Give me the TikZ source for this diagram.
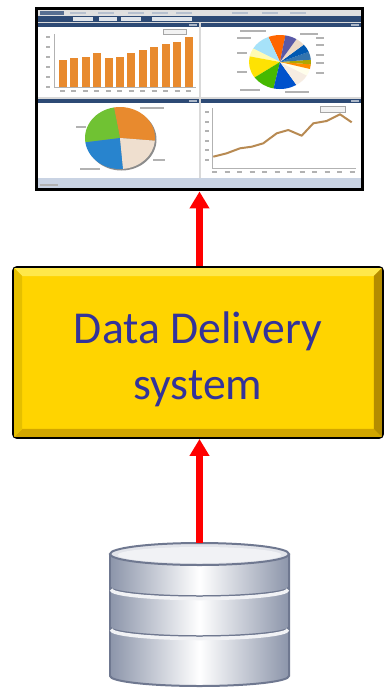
\documentclass[tikz,border=0pt]{standalone}
\usepackage{fontspec}
\setmainfont{Carlito}
\usetikzlibrary{arrows.meta,calc}
\definecolor{ddyellow}{HTML}{FFD400}
\definecolor{ddlight}{HTML}{FFE84A}
\definecolor{dddark}{HTML}{D2A600}
\definecolor{ddside}{HTML}{B48C00}
\definecolor{ddtext}{HTML}{33339A}
\definecolor{navy}{HTML}{2D4A75}
\definecolor{barorange}{HTML}{E88A2E}
\definecolor{dbedge}{HTML}{8C95AA}
\definecolor{dbrim}{HTML}{6F7890}
\definecolor{statusblue}{HTML}{C9D3E3}
\definecolor{linetan}{HTML}{B88A52}
\tikzset{flow/.style={red, line width=0.14cm, -{Triangle[length=0.34cm,width=0.38cm]}},
  dds/.style={draw=black, line width=0.04cm, rounded corners=0.08cm, fill=ddyellow, minimum width=7.4cm, minimum height=3.42cm, text=ddtext, font=\fontsize{26}{32}\selectfont, align=center},
  screen/.style={draw=black, line width=0.06cm, fill=white, minimum width=6.54cm, minimum height=3.64cm, inner sep=0pt},
  disks/.style={inner sep=0pt, minimum width=3.58cm, minimum height=2.86cm},
  smudge/.style={black!30, line width=0.6pt},
  box/.style={draw=black!35, line width=0.3pt, fill=black!5}}
\newcommand\pieslice[5]{\fill[#5] (0,0) -- (#1:#3 and #4) arc (#1:#2:#3 and #4) -- cycle;}

\begin{document}
\begin{tikzpicture}[x=0.02cm,y=-0.02cm]
  \useasboundingbox (0,0) rectangle (385,691);
  \node[screen] (screen) at (199.5,99) {};
  \node[dds] (dds) at (198,352.5) {\rule{0pt}{26pt}Data Delivery\\system};
  \node[disks] (db) at (199.5,614.5) {};

  \fill[ddlight] ($(dds.north west)+(2,2)$) -- ($(dds.north east)+(-2,2)$) -- ($(dds.north east)+(-10,10)$) -- ($(dds.north west)+(10,10)$) -- cycle;
  \fill[dddark] ($(dds.south west)+(2,-2)$) -- ($(dds.south east)+(-2,-2)$) -- ($(dds.south east)+(-10,-10)$) -- ($(dds.south west)+(10,-10)$) -- cycle;
  \fill[ddside] ($(dds.north east)+(-2,2)$) -- ($(dds.south east)+(-2,-2)$) -- ($(dds.south east)+(-10,-10)$) -- ($(dds.north east)+(-10,10)$) -- cycle;
  \fill[ddyellow!90!black] ($(dds.north west)+(2,2)$) -- ($(dds.south west)+(2,-2)$) -- ($(dds.south west)+(10,-10)$) -- ($(dds.north west)+(10,10)$) -- cycle;

  \begin{scope}
   \fill[black!12] (38,10) rectangle (361,16);
   \fill[navy!80] (40,11) rectangle (64,15);
   \foreach \x in {70,98,128,152,176,232,262,290} \fill[navy!35] (\x,12) rectangle ++(16,2);
   \fill[navy] (38,16) rectangle (361,22);
   \foreach \x/\w in {73/20,99/18,121/20,152/24,176/16} \fill[white!85!navy] (\x,17) rectangle ++(\w,4);
   \fill[black!15] (38,22) rectangle (361,178);
   \fill[white] (38,23) rectangle (199,97);
   \fill[white] (201,23) rectangle (361,97);
   \fill[white] (38,99) rectangle (199,178);
   \fill[white] (201,99) rectangle (361,178);
   \foreach \x/\y/\w in {38/23/161,201/23/160,38/99/161,201/99/160} {
     \fill[navy] (\x,\y) rectangle ++(\w,4);
     \fill[white!60!navy] (\x+\w-10,\y+1) rectangle ++(8,2);
   }
   \fill[statusblue] (38,178) rectangle (361,188);
   \draw[smudge] (40,185) -- (58,185);
  \end{scope}

  \draw[black!30, line width=0.3pt] (54,34) -- (54,87) -- (196,87);
  \foreach \y in {37,47,57,67,77,87} \draw[smudge] (46,\y) -- ++(4,0);
  \foreach \h [count=\i from 0] in {60,58,57,53,58,57,53,50,47,44,42,37} {
    \fill[barorange] ({58.7+11.45*\i},\h) rectangle ({66.7+11.45*\i},87);
    \draw[smudge] ({60+11.45*\i},91) -- ++(5,0);
  }
  \draw[box] (163,29) rectangle (186,34);

  \begin{scope}[shift={(280,62)}, yscale=-1]
   \pieslice{80}{112}{31}{27}{orange!80!red}
   \pieslice{112}{150}{31}{27}{cyan!35!white}
   \pieslice{150}{168}{31}{27}{yellow!30!white}
   \pieslice{168}{215}{31}{27}{yellow!85!orange}
   \pieslice{215}{258}{31}{27}{green!45!olive}
   \pieslice{258}{302}{31}{27}{blue!60!cyan!80!black}
   \pieslice{302}{330}{31}{27}{brown!15!white}
   \pieslice{330}{345}{31}{27}{white!92!yellow}
   \pieslice{345}{355}{31}{27}{orange!90!yellow}
   \pieslice{355}{365}{31}{27}{olive!70!yellow}
   \pieslice{5}{22}{31}{27}{cyan!60!blue!80!black}
   \pieslice{22}{40}{31}{27}{blue!50!cyan!70!black}
   \pieslice{40}{58}{31}{27}{brown!30!white}
   \pieslice{58}{80}{31}{27}{blue!30!gray}
  \end{scope}
  \foreach \x/\y/\w in {240/31/26,237/38/14,237/53/10,237/72/10,240/90/20,285/92/24,300/34/18,316/38/8,316/45/8,316/55/8,316/63/8,316/73/8} \draw[smudge] (\x,\y) -- ++(\w,0);

  \begin{scope}[shift={(120,138)}, yscale=-1]
   \fill[black!45] (1.5,-1.5) ellipse [x radius=35, y radius=31];
   \pieslice{-5}{100}{35}{31}{barorange}
   \pieslice{100}{188}{35}{31}{green!40!olive!80!white}
   \pieslice{188}{275}{35}{31}{cyan!60!blue!90!white}
   \pieslice{275}{355}{35}{31}{brown!25!white}
  \end{scope}
  \foreach \x/\y/\w in {76/127/10,140/108/24,153/160/12,80/169/20} \draw[smudge] (\x,\y) -- ++(\w,0);

  \draw[black!30, line width=0.3pt] (212,108) -- (212,168) -- (356,168);
  \foreach \y in {112,122,131,141,150,160} \draw[smudge] (205,\y) -- ++(4,0);
  \foreach \i in {0,...,11} \draw[smudge] ({212+12.5*\i},172) -- ++(5,0);
  \draw[linetan, line width=0.04cm, line join=round] (213.3,156.7) -- (226.7,153.3) -- (240,148.3) -- (251.7,146.7) -- (263.3,143.3) -- (276.7,133.3) -- (288.3,130) -- (301.7,135.7) -- (313.3,123.3) -- (326.7,121) -- (340,114.3) -- (351.7,122.3);
  \draw[box] (320,106) rectangle (345,112);

  \shade[left color=dbedge, right color=dbedge, middle color=white] (110,554) -- (110,676) arc [start angle=180, end angle=0, x radius=89.5, y radius=10] -- (289,554) -- cycle;
  \draw[dbrim, line width=0.04cm] (110,554) -- (110,676) arc [start angle=180, end angle=0, x radius=89.5, y radius=10] -- (289,554);
  \foreach \y in {587,627} {
    \draw[dbrim, line width=0.03cm] (110,\y) arc [start angle=180, end angle=0, x radius=89.5, y radius=9];
    \draw[white!88!dbedge, line width=0.07cm] (111,\y+2.5) arc [start angle=180, end angle=0, x radius=88.5, y radius=9];
  }
  \fill[white!75!dbedge, draw=dbrim, line width=0.04cm] (199.5,554) ellipse [x radius=89.5, y radius=11];
  \fill[white!88!dbedge] (199.5,555) ellipse [x radius=82, y radius=8];

  \draw[flow] (db.north) -- (db.north |- dds.south);
  \draw[flow] (dds.north -| db.north) -- (db.north |- screen.south);
\end{tikzpicture}
\end{document}
